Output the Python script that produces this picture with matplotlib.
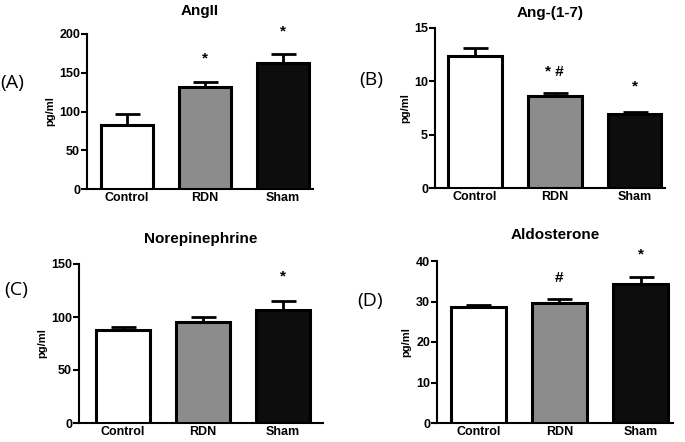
import matplotlib
matplotlib.use("Agg")
import matplotlib.pyplot as plt

plt.rcParams['font.family'] = ['Liberation Sans', 'DejaVu Sans']

groups = ['Control', 'RDN', 'Sham']
colors = ['white', '#8c8c8c', '#0d0d0d']

titles = ['AngII', 'Ang-(1-7)', 'Norepinephrine', 'Aldosterone']
letters = ['(A)', '(B)', '(C)', '(D)']

angii = [83, 132, 162]
angii_err = [14, 6, 12]
ang17 = [12.4, 8.6, 6.9]
ang17_err = [0.7, 0.3, 0.2]
norepi = [88, 95, 107]
norepi_err = [3, 5, 8]
aldo = [28.6, 29.7, 34.2]
aldo_err = [0.6, 0.8, 1.8]

means = [angii, ang17, norepi, aldo]
errs = [angii_err, ang17_err, norepi_err, aldo_err]
ymax = [200, 15, 150, 40]
ystep = [50, 5, 50, 10]

# significance marks: (bar index, text, y)
marks = [
    [(1, '*', 168), (2, '*', 203)],
    [(1, '* #', 10.9), (2, '*', 9.5)],
    [(2, '*', 138)],
    [(1, '#', 35.8), (2, '*', 41.5)],
]

# axes rectangles in figure pixels: left, top, right, bottom
boxes = [(87, 34, 313, 189), (435, 28, 665, 188),
         (79, 264, 323, 423), (437, 261, 673, 423)]
xlims = [(-0.51, 2.39), (-0.5, 2.38), (-0.55, 2.5), (-0.51, 2.4)]
letter_pos = [(12, 83), (371, 80), (16, 290), (370, 301)]
title_pad = [14, 8, 15, 16]

W, H = 685, 442
fig = plt.figure(figsize=(W / 100, H / 100), dpi=100)

for i in range(4):
    l, t, r, b = boxes[i]
    ax = fig.add_axes([l / W, 1 - b / H, (r - l) / W, (b - t) / H])
    x = range(3)
    ax.bar(x, means[i], width=0.67, color=colors, edgecolor='black',
           linewidth=2.2, zorder=3)
    ax.errorbar(x, means[i], yerr=[[0, 0, 0], errs[i]], fmt='none',
                ecolor='black', elinewidth=2, capsize=9, capthick=2,
                zorder=2)
    for j, txt, yv in marks[i]:
        ax.text(j, yv, txt, ha='center', va='center', fontsize=11,
                fontweight='bold', clip_on=False)
    ax.set_xlim(*xlims[i])
    ax.set_ylim(0, ymax[i])
    ax.set_yticks(range(0, ymax[i] + 1, ystep[i]))
    ax.set_xticks(list(x))
    ax.set_xticklabels(groups, fontsize=9, fontweight='bold')
    ax.tick_params(axis='x', length=0, pad=2)
    ax.tick_params(axis='y', length=4, width=1.5, labelsize=9, pad=1)
    for lab in ax.get_yticklabels():
        lab.set_fontweight('bold')
    ax.spines['top'].set_visible(False)
    ax.spines['right'].set_visible(False)
    ax.spines['left'].set_linewidth(1.5)
    ax.spines['bottom'].set_linewidth(1.5)
    ax.set_ylabel('pg/ml', fontsize=8, fontweight='bold', labelpad=3)
    ax.set_title(titles[i], fontsize=11, fontweight='bold', pad=title_pad[i])
    lx, ly = letter_pos[i]
    fig.text(lx / W, 1 - ly / H, letters[i], ha='center', va='center',
             fontsize=14, family=['Open Sans', 'DejaVu Sans'])

fig.savefig('out.png', dpi=100)
